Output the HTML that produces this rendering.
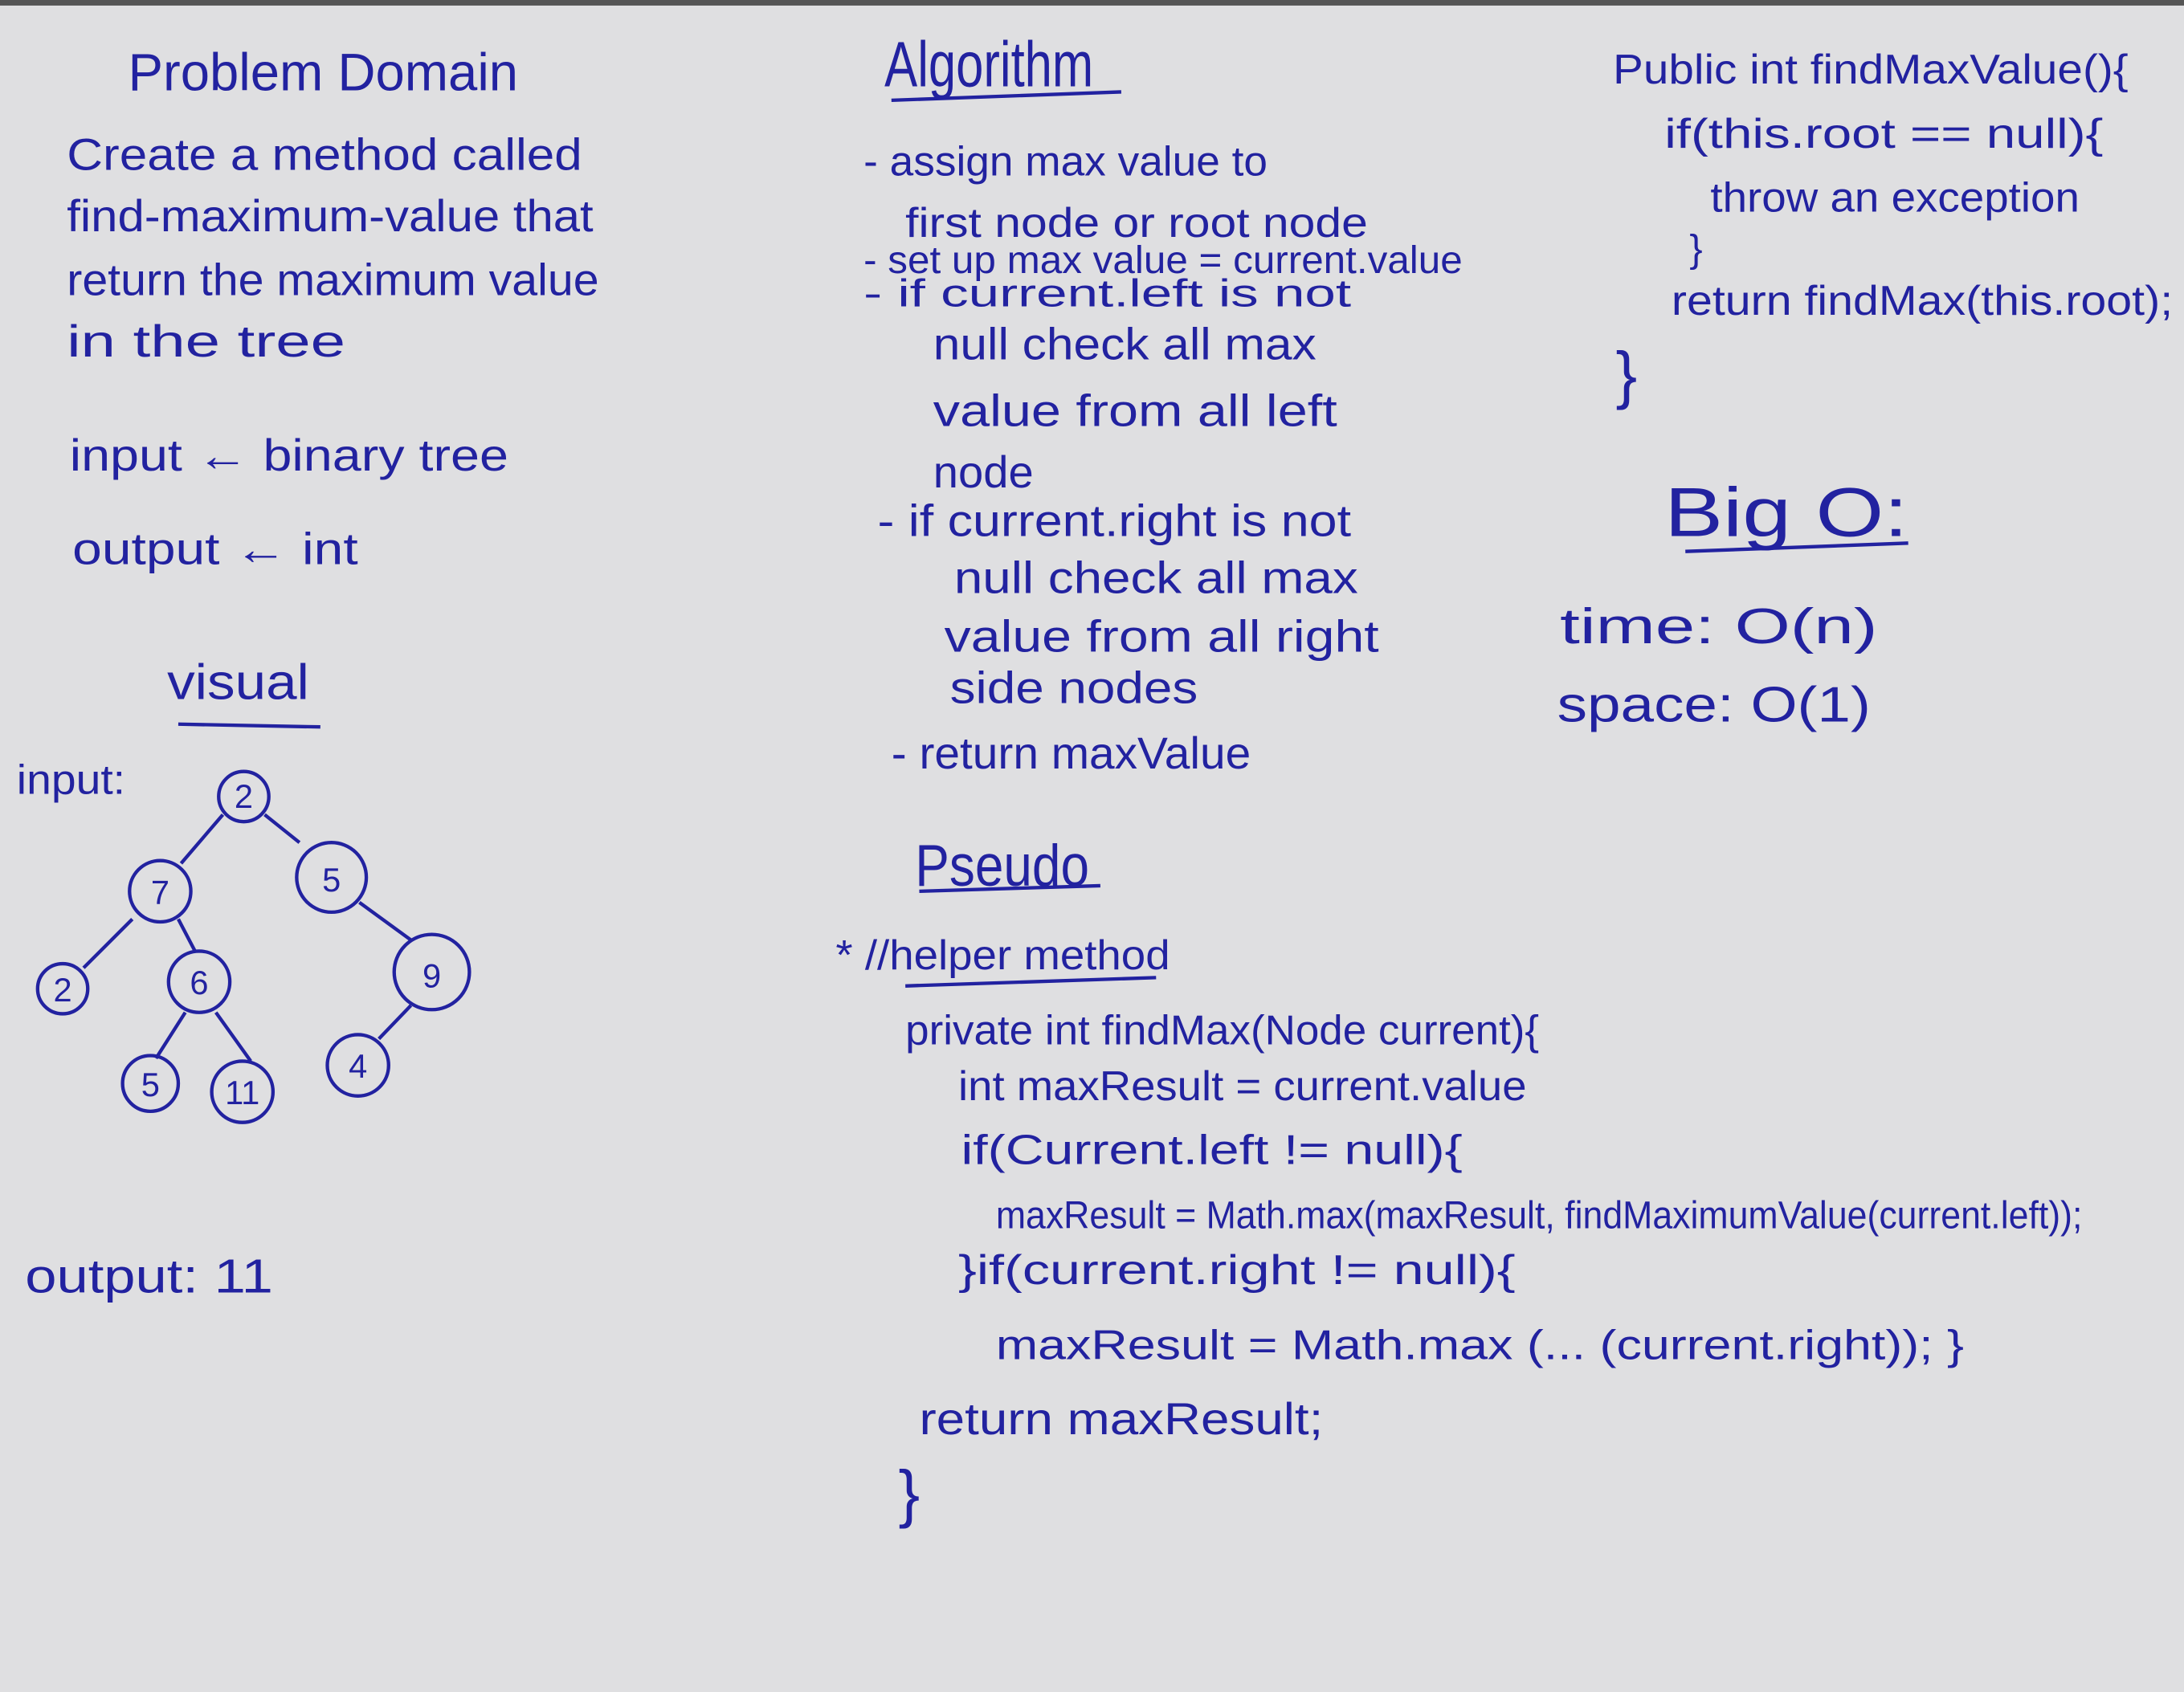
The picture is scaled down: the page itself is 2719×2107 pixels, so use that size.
<!DOCTYPE html>
<html><head><meta charset="utf-8"><style>
html,body{margin:0;padding:0;background:#dfdfe1;}
svg{display:block}
text{font-family:"Liberation Sans",sans-serif;fill:#2222a0;}
</style></head><body>
<svg width="2719" height="2107" viewBox="0 0 1568 1215" preserveAspectRatio="none" xmlns="http://www.w3.org/2000/svg">
<rect width="1568" height="1215" fill="#dfdfe1"/>
<rect width="1568" height="4" fill="#555"/>
<g stroke="#2222a0" stroke-width="2.5" fill="none">
<line x1="128" y1="520" x2="230" y2="522"/>
<line x1="640" y1="72" x2="805" y2="66"/>
<line x1="660" y1="640" x2="790" y2="636"/>
<line x1="650" y1="708" x2="830" y2="702"/>
<line x1="1210" y1="396" x2="1370" y2="390"/>
<line x1="160" y1="585" x2="130" y2="620"/>
<line x1="190" y1="585" x2="215" y2="605"/>
<line x1="95" y1="660" x2="60" y2="695"/>
<line x1="128" y1="660" x2="140" y2="683"/>
<line x1="258" y1="648" x2="295" y2="675"/>
<line x1="133" y1="727" x2="112" y2="760"/>
<line x1="155" y1="727" x2="180" y2="762"/>
<line x1="295" y1="722" x2="272" y2="746"/>
<circle cx="175" cy="572" r="18"/>
<circle cx="115" cy="640" r="22"/>
<circle cx="238" cy="630" r="25"/>
<circle cx="45" cy="710" r="18"/>
<circle cx="143" cy="705" r="22"/>
<circle cx="310" cy="698" r="27"/>
<circle cx="108" cy="778" r="20"/>
<circle cx="174" cy="784" r="22"/>
<circle cx="257" cy="765" r="22"/>
</g>
<g font-size="24" text-anchor="middle">
<text x="175" y="580">2</text><text x="115" y="649">7</text><text x="238" y="640">5</text>
<text x="45" y="719">2</text><text x="143" y="714">6</text><text x="310" y="709">9</text>
<text x="108" y="787">5</text><text x="174" y="793">11</text><text x="257" y="774">4</text>
</g>
<text x="92" y="65" font-size="38" textLength="280" lengthAdjust="spacingAndGlyphs">Problem Domain</text>
<text x="48" y="122" font-size="32" textLength="370" lengthAdjust="spacingAndGlyphs">Create a method called</text>
<text x="48" y="166" font-size="32" textLength="378" lengthAdjust="spacingAndGlyphs">find-maximum-value that</text>
<text x="48" y="212" font-size="32" textLength="382" lengthAdjust="spacingAndGlyphs">return the maximum value</text>
<text x="48" y="256" font-size="32" textLength="200" lengthAdjust="spacingAndGlyphs">in the tree</text>
<text x="50" y="338" font-size="32" textLength="315" lengthAdjust="spacingAndGlyphs">input ← binary tree</text>
<text x="52" y="405" font-size="32" textLength="205" lengthAdjust="spacingAndGlyphs">output ← int</text>
<text x="120" y="502" font-size="36" textLength="102" lengthAdjust="spacingAndGlyphs">visual</text>
<text x="12" y="570" font-size="30" textLength="78" lengthAdjust="spacingAndGlyphs">input:</text>
<text x="18" y="928" font-size="34" textLength="178" lengthAdjust="spacingAndGlyphs">output: 11</text>

<text x="635" y="62" font-size="46" textLength="150" lengthAdjust="spacingAndGlyphs">Algorithm</text>
<text x="620" y="126" font-size="30" textLength="290" lengthAdjust="spacingAndGlyphs">- assign max value to</text>
<text x="650" y="170" font-size="30" textLength="332" lengthAdjust="spacingAndGlyphs">first node or root node</text>
<text x="620" y="196" font-size="28" textLength="430" lengthAdjust="spacingAndGlyphs">- set up max value = current.value</text>
<text x="620" y="220" font-size="28" textLength="350" lengthAdjust="spacingAndGlyphs">- if  current.left is not</text>
<text x="670" y="258" font-size="32" textLength="275" lengthAdjust="spacingAndGlyphs">null check all max</text>
<text x="670" y="306" font-size="32" textLength="290" lengthAdjust="spacingAndGlyphs">value from all left</text>
<text x="670" y="350" font-size="32" textLength="72" lengthAdjust="spacingAndGlyphs">node</text>
<text x="630" y="385" font-size="32" textLength="340" lengthAdjust="spacingAndGlyphs">- if current.right is not</text>
<text x="685" y="426" font-size="32" textLength="290" lengthAdjust="spacingAndGlyphs">null check all max</text>
<text x="678" y="468" font-size="32" textLength="312" lengthAdjust="spacingAndGlyphs">value from all right</text>
<text x="682" y="505" font-size="32" textLength="178" lengthAdjust="spacingAndGlyphs">side nodes</text>
<text x="640" y="552" font-size="32" textLength="258" lengthAdjust="spacingAndGlyphs">-  return maxValue</text>

<text x="657" y="636" font-size="42" textLength="125" lengthAdjust="spacingAndGlyphs">Pseudo</text>
<text x="600" y="696" font-size="30" textLength="240" lengthAdjust="spacingAndGlyphs">* //helper method</text>
<text x="650" y="750" font-size="30" textLength="455" lengthAdjust="spacingAndGlyphs">private int findMax(Node current){</text>
<text x="688" y="790" font-size="30" textLength="408" lengthAdjust="spacingAndGlyphs">int maxResult = current.value</text>
<text x="690" y="836" font-size="30" textLength="360" lengthAdjust="spacingAndGlyphs">if(Current.left != null){</text>
<text x="715" y="882" font-size="28" textLength="780" lengthAdjust="spacingAndGlyphs">maxResult = Math.max(maxResult, findMaximumValue(current.left));</text>
<text x="688" y="922" font-size="30" textLength="400" lengthAdjust="spacingAndGlyphs">}if(current.right != null){</text>
<text x="715" y="976" font-size="30" textLength="695" lengthAdjust="spacingAndGlyphs">maxResult = Math.max (... (current.right)); }</text>
<text x="660" y="1030" font-size="32" textLength="290" lengthAdjust="spacingAndGlyphs">return maxResult;</text>
<text x="645" y="1088" font-size="46">}</text>

<text x="1158" y="60" font-size="30" textLength="370" lengthAdjust="spacingAndGlyphs">Public int findMaxValue(){</text>
<text x="1195" y="106" font-size="30" textLength="315" lengthAdjust="spacingAndGlyphs">if(this.root == null){</text>
<text x="1228" y="152" font-size="30" textLength="265" lengthAdjust="spacingAndGlyphs">throw an exception</text>
<text x="1213" y="188" font-size="28">}</text>
<text x="1200" y="226" font-size="30" textLength="360" lengthAdjust="spacingAndGlyphs">return findMax(this.root);</text>
<text x="1160" y="285" font-size="46">}</text>
<text x="1195" y="385" font-size="50" textLength="175" lengthAdjust="spacingAndGlyphs">Big O:</text>
<text x="1120" y="462" font-size="36" textLength="228" lengthAdjust="spacingAndGlyphs">time:  O(n)</text>
<text x="1118" y="518" font-size="36" textLength="225" lengthAdjust="spacingAndGlyphs">space:  O(1)</text>
</svg>
</body></html>
